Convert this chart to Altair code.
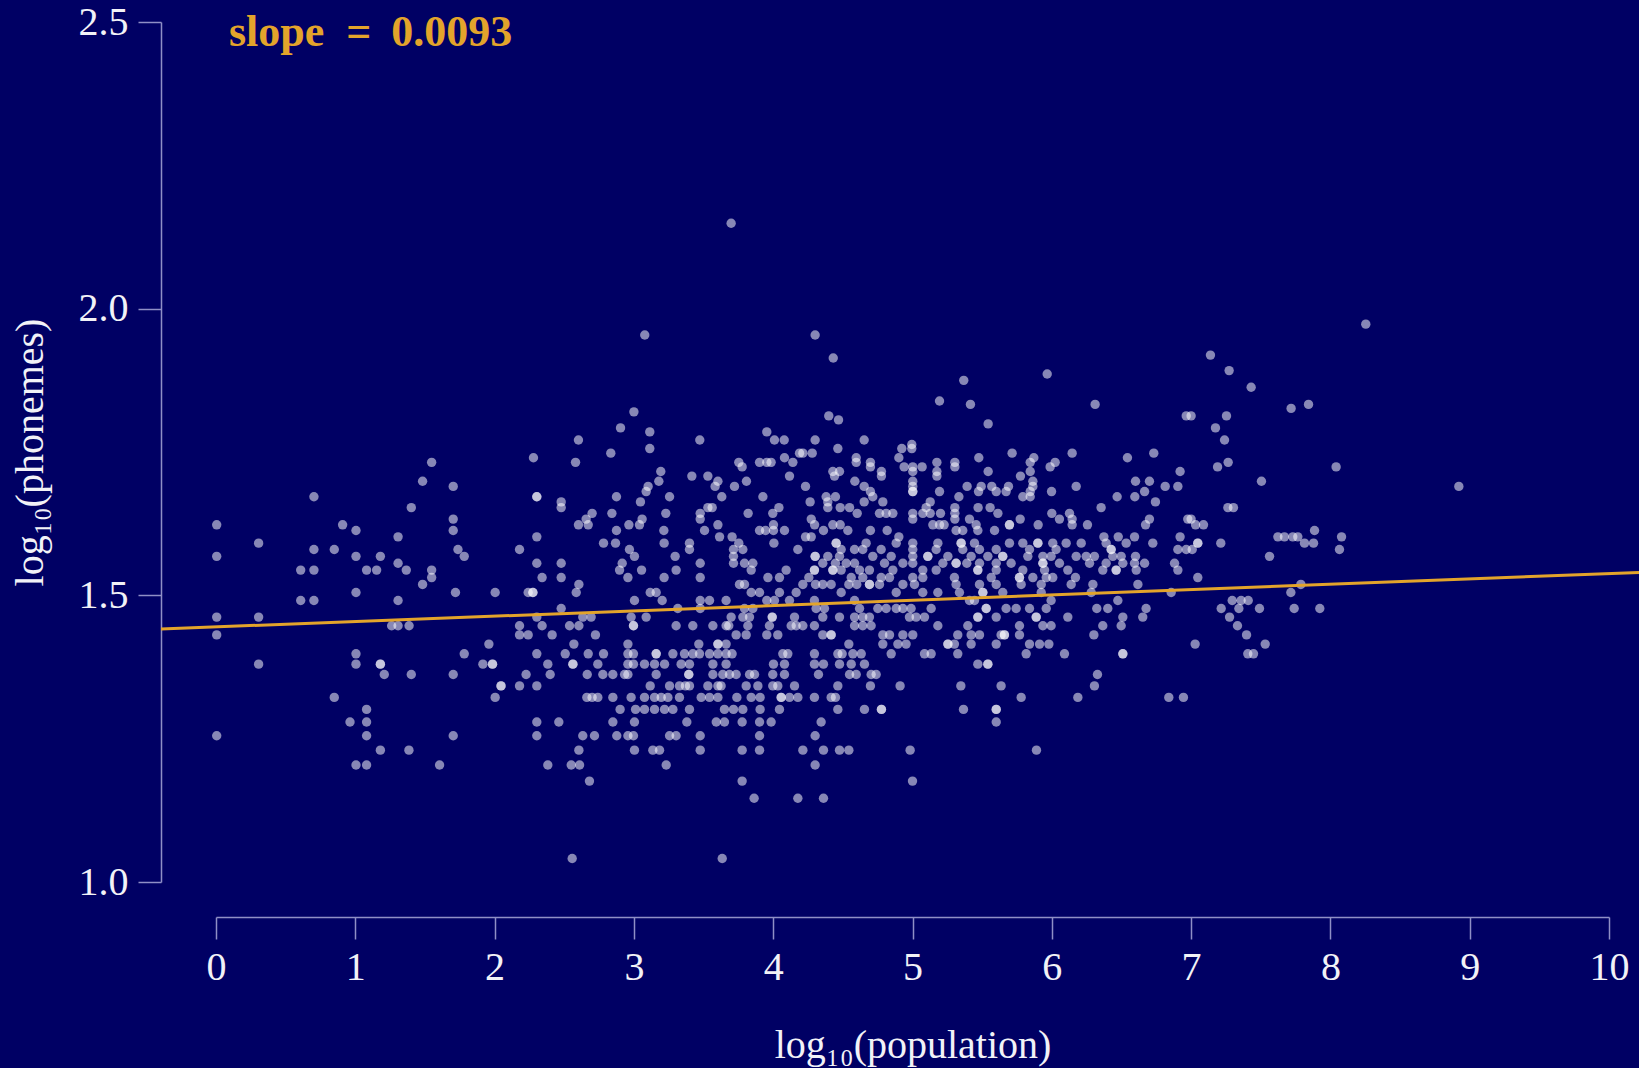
import altair as alt
import pandas as pd

# Languages: log10(speaker population) against log10(phoneme inventory size).
# Each group holds rows of equal inventory size: (log10 phonemes, [log10 population, ...]).

west = [
    (1.732, [1.548]), (1.699, [1.483]), (1.690, [1.703]), (1.672, [0.703]),
    (1.653, [1.402]), (1.633, [1.703]), (1.623, [0.005, 0.909]), (1.613, [1.005, 1.703]),
    (1.602, [1.307]), (1.591, [0.306]),
    (1.580, [0.703, 0.849, 1.737, 2.179]), (1.568, [0.005, 1.005, 1.180, 1.782]),
    (1.556, [1.307]), (1.544, [0.608, 0.703, 1.081, 1.153, 1.366, 1.548]),
    (1.531, [1.548]), (1.519, [1.483]), (1.505, [1.005, 1.719, 2.004, 2.241]),
    (1.491, [0.608, 0.703, 1.307]), (1.462, [0.005, 0.306]),
    (1.447, [1.261, 1.307, 1.386, 2.179]), (1.431, [0.005, 2.179, 2.241]),
    (1.415, [1.959]), (1.398, [1.005, 1.782]),
    (1.380, [0.306, 1.005, 1.180, 1.180, 1.916, 1.985, 1.985]),
    (1.362, [1.208, 1.402, 1.703, 2.226]), (1.342, [2.046, 2.046, 2.179]),
    (1.322, [0.849, 2.004]), (1.301, [1.081]), (1.279, [0.962, 1.081]),
    (1.255, [0.005, 1.081, 1.703]), (1.230, [1.180, 1.385]), (1.204, [1.005, 1.081, 1.605]),
]

centre_upper = [
    (2.149, [3.698]), (1.954, [3.078, 4.301]), (1.914, [4.431]), (1.820, [3.000]),
    (1.813, [4.399]), (1.806, [4.469]), (1.792, [2.904]), (1.785, [3.114, 3.954]),
    (1.771, [2.602, 3.473, 4.009, 4.079, 4.301]), (1.756, [3.114, 4.464]),
    (1.748, [2.834, 4.189, 4.213, 4.280]), (1.740, [2.279, 4.081, 4.596]),
    (1.732, [2.581, 3.753, 3.902, 3.954, 3.985, 4.141, 4.596]), (1.724, [3.777]),
    (1.716, [3.193, 4.428, 4.476]), (1.708, [3.416, 3.531, 4.117, 4.440]),
    (1.699, [3.179, 3.603, 3.808, 4.586]), (1.690, [3.102, 3.583, 3.722, 4.232]),
    (1.681, [3.088]),
    (1.672, [2.303, 2.303, 2.875, 3.256, 3.631, 3.926, 4.380, 4.447]),
    (1.663, [2.478, 3.047, 4.265, 4.392]),
    (1.653, [2.478, 3.531, 3.562, 4.041, 4.392, 4.481, 4.548]),
    (1.643, [2.700, 2.842, 3.229, 3.476, 3.820, 3.997, 4.603]),
    (1.633, [2.657, 3.059, 3.476, 4.273]),
    (1.623, [2.602, 2.672, 2.964, 3.040, 3.603, 4.002, 4.297, 4.428, 4.481]),
    (1.613, [2.875, 3.215, 3.507, 3.902, 3.945, 4.002, 4.081, 4.361, 4.536]),
    (1.602, [2.303, 3.615, 3.705, 4.232, 4.273]),
]

east_upper = [
    (1.886, [5.967]), (1.875, [5.368]), (1.839, [5.194]), (1.833, [5.416, 6.311]),
    (1.813, [6.965]), (1.799, [5.543]), (1.771, [4.653]), (1.763, [4.995]),
    (1.756, [4.923, 4.995]), (1.748, [5.715, 6.146, 6.732]),
    (1.740, [4.902, 5.476, 5.871, 6.543]),
    (1.732, [4.698, 5.175, 5.304, 5.845, 6.024]),
    (1.724, [4.698, 4.940, 5.002, 5.069, 5.304, 5.988]),
    (1.716, [5.002, 5.175, 5.845, 6.921, 4.777, 5.543]),
    (1.708, [5.175, 5.775, 4.777]),
    (1.699, [5.864, 5.002, 6.601, 6.701]),
    (1.690, [5.864, 5.002, 4.653, 5.392, 5.493, 5.569, 5.689, 6.175, 6.814, 6.905]),
    (1.681, [5.845, 5.002, 5.002, 4.698, 5.194, 5.474, 5.601, 5.672, 5.998, 6.666]),
    (1.672, [4.715, 5.333, 5.792, 5.845, 6.469, 6.596]),
    (1.663, [6.744, 4.653, 4.787, 5.127]),
    (1.653, [5.098, 5.304, 5.471, 5.557, 6.354]),
    (1.643, [4.811, 4.763, 4.859, 5.074, 5.127, 5.201, 5.304, 5.613, 5.002, 6.000, 6.127]),
    (1.633, [5.304, 5.002, 6.055, 6.146, 6.701, 6.976, 5.409, 5.773]),
    (1.623, [6.146, 6.673, 5.146, 5.194, 5.227, 5.457, 5.696, 5.696, 5.902, 6.256]),
    (1.613, [5.469, 4.698, 4.818, 5.313, 5.361, 5.589]),
    (1.602, [4.902, 6.374, 6.477, 6.594, 6.921]),
]

far_east = [
    (1.973, [8.254]), (1.919, [7.139]), (1.892, [7.273]), (1.863, [7.431]),
    (1.833, [7.843]), (1.826, [7.718]), (1.813, [7.000, 7.254]), (1.792, [7.175]),
    (1.771, [7.240]), (1.732, [7.266]), (1.724, [7.190, 8.041]), (1.699, [7.505]),
    (1.690, [8.922]), (1.653, [7.264, 7.304]), (1.633, [7.000]), (1.623, [7.032, 7.089]),
    (1.613, [7.886]), (1.602, [7.623, 7.670, 7.730, 7.766, 8.080]),
    (1.591, [7.048, 7.048, 7.213, 7.814, 7.879]), (1.580, [7.008, 8.065]),
    (1.568, [7.563]), (1.531, [7.048]), (1.519, [7.788]), (1.505, [7.716]),
    (1.491, [7.295, 7.359, 7.410]), (1.477, [7.216, 7.343, 7.491, 7.740, 7.924]),
    (1.462, [7.276]), (1.447, [7.333]), (1.431, [7.398]), (1.415, [7.029, 7.532]),
    (1.398, [7.407, 7.448]),
]

centre_lower = [
    (1.591, [2.782, 2.868, 3.217, 3.399, 3.753, 4.005, 4.452, 4.452]),
    (1.580, [2.968, 3.399, 3.715, 3.782, 4.177, 4.488, 4.584]),
    (1.568, [3.004, 3.296, 3.715, 4.301, 4.301, 4.392, 4.476]),
    (1.556, [2.303, 2.478, 2.916, 3.476, 3.715, 3.794, 3.854, 4.356, 4.447, 4.524, 4.584]),
    (1.544, [2.897, 3.055, 3.303, 3.842, 4.093, 4.296, 4.296, 4.428, 4.428, 4.488]),
    (1.531, [2.341, 2.478, 2.957, 3.217, 3.476, 3.962, 4.045, 4.256, 4.560]),
    (1.519, [2.605, 3.758, 3.794, 4.213, 4.304, 4.356, 4.416, 4.543, 4.600]),
    (1.505, [2.275, 2.275, 2.586, 3.117, 3.160, 3.842, 3.902, 4.045, 4.165, 4.488]),
    (1.491, [3.004, 3.203, 3.476, 3.543, 3.662, 3.954, 4.009, 4.117, 4.296, 4.584]),
    (1.477, [2.478, 3.315, 3.476, 3.794, 3.854, 4.308, 4.368]),
    (1.462, [2.303, 2.633, 2.693, 2.980, 3.088, 3.698, 3.782, 3.830, 3.993, 3.993,
             4.153, 4.356, 4.476, 4.584]),
    (1.447, [2.341, 2.538, 2.605, 2.997, 2.997, 3.303, 3.423, 3.567, 3.662, 3.681,
             3.818, 3.973, 4.129, 4.165, 4.213, 4.296, 4.584]),
    (1.431, [2.413, 2.724, 3.734, 3.806, 3.954, 4.033, 4.356, 4.416, 4.416]),
    (1.415, [2.569, 2.957, 3.466, 3.603, 3.603, 3.662, 4.543]),
    (1.398, [2.303, 2.507, 2.672, 2.782, 2.957, 2.997, 3.160, 3.160, 3.280, 3.363,
             3.423, 3.471, 3.543, 3.603, 3.662, 3.705, 4.069, 4.105, 4.296, 4.464,
             4.495, 4.572]),
    (1.380, [2.382, 2.562, 2.562, 2.741, 2.957, 2.997, 3.076, 3.148, 3.220, 3.339,
             3.399, 3.567, 3.662, 4.002, 4.081, 4.296, 4.361, 4.476, 4.560]),
    (1.362, [2.399, 2.665, 2.777, 2.849, 2.933, 2.957, 3.160, 3.394, 3.394, 3.567,
             3.638, 3.686, 3.734, 3.830, 3.866, 3.997, 4.081, 4.325, 4.548, 4.596]),
    (1.342, [2.303, 3.117, 3.256, 3.327, 3.370, 3.399, 3.531, 3.603, 3.626, 3.806,
             3.890, 3.997, 4.033, 4.153, 4.464]),
    (1.322, [2.662, 2.700, 2.741, 2.849, 2.980, 3.076, 3.148, 3.196, 3.244, 3.327,
             3.483, 3.543, 3.603, 3.739, 3.842, 3.906, 4.057, 4.057, 4.117, 4.177,
             4.296, 4.416, 4.447]),
    (1.301, [2.901, 3.012, 3.076, 3.148, 3.220, 3.280, 3.399, 3.650, 3.715, 3.782,
             3.906, 4.045, 4.464]),
    (1.279, [2.303, 2.461, 2.849, 3.004, 3.380, 3.591, 3.650, 3.777, 3.902, 3.985, 4.344]),
    (1.255, [2.303, 2.633, 2.717, 2.877, 2.957, 2.997, 3.256, 3.303, 3.476, 3.902, 4.301]),
    (1.230, [2.605, 3.004, 3.136, 3.184, 3.476, 3.777, 3.902, 4.213, 4.361, 4.476, 4.543]),
    (1.204, [2.382, 2.550, 2.610, 3.232, 4.301]),
    (1.176, [2.681, 3.777]),
    (1.146, [3.863, 4.177, 4.361]),
    (1.041, [2.557, 3.634]),
]

east_lower = [
    (1.591, [4.667, 4.883, 5.002, 5.182, 5.349, 5.349, 5.445, 5.696, 5.792, 5.900,
             5.900, 6.007, 6.103, 6.211, 6.390, 6.534, 6.725]),
    (1.580, [4.643, 4.775, 5.002, 5.170, 5.361, 5.481, 5.601, 5.840, 6.031, 6.426,
             6.426, 6.905, 6.965]),
    (1.568, [4.715, 4.847, 5.002, 5.110, 5.110, 5.254, 5.421, 5.541, 5.648, 5.648,
             5.828, 5.936, 5.995, 6.175, 6.247, 6.306, 6.438, 6.498, 6.601]),
    (1.556, [4.799, 4.931, 5.002, 5.218, 5.313, 5.313, 5.390, 5.481, 5.601, 5.708,
             5.936, 5.936, 6.055, 6.271, 6.390, 6.510, 6.594, 6.666, 6.881]),
    (1.544, [4.620, 4.691, 4.859, 5.074, 5.170, 5.469, 5.469, 5.601, 5.792, 5.948,
             6.115, 6.366, 6.462, 6.462, 6.606, 6.905]),
    (1.531, [4.643, 4.775, 4.835, 5.002, 5.074, 5.301, 5.565, 5.768, 5.768, 5.864,
             5.960, 6.007, 6.170]),
    (1.519, [4.691, 4.691, 4.763, 4.931, 5.014, 5.313, 5.481, 5.601, 5.780, 5.924,
             6.139, 6.295, 6.618]),
    (1.505, [4.883, 5.074, 5.182, 5.337, 5.505, 5.505, 5.648, 5.924, 6.283, 6.857]),
    (1.491, [5.409, 5.445, 5.995, 6.474]),
    (1.477, [4.620, 4.751, 4.811, 4.883, 4.931, 4.990, 5.134, 5.529, 5.529, 5.672,
             5.744, 5.840, 5.960, 6.323, 6.402, 6.677]),
    (1.462, [4.643, 4.691, 4.978, 5.026, 5.086, 5.469, 5.469, 5.601, 5.888, 5.888,
             6.115, 6.510, 6.653]),
    (1.447, [4.643, 4.703, 5.182, 5.397, 5.768, 5.936, 5.995, 6.366, 6.498]),
    (1.431, [4.787, 4.835, 4.931, 5.002, 5.325, 5.421, 5.481, 5.636, 5.660, 5.660,
             5.768, 6.302]),
    (1.415, [4.787, 4.895, 4.954, 5.254, 5.254, 5.301, 5.421, 5.601, 5.840, 5.912, 5.979]),
    (1.398, [4.632, 4.847, 5.086, 5.134, 5.325, 5.816, 6.091, 6.510, 6.510]),
    (1.380, [4.655, 5.469, 5.541, 5.541]),
    (1.362, [4.703, 4.739, 6.328]),
    (1.342, [4.698, 4.911, 5.347, 5.636, 6.306]),
    (1.322, [5.780, 6.187, 6.840, 6.945]),
    (1.301, [4.655, 4.777, 4.777, 5.366, 5.601, 5.601]),
    (1.279, [5.601]),
    (1.230, [4.983, 5.890]),
    (1.176, [5.000]),
]

# Fitted trend reported on the chart
slope = 0.0093
intercept = 1.445
fit_x = [-0.395, 10.3]

x_ticks = list(range(0, 11))
y_ticks = [1.0, 1.5, 2.0, 2.5]

BG = "#000064"
AXIS = "#8f8fc6"
TEXT = "#f2f2f7"
GOLD = "#E3A42B"
FONT = "Liberation Serif"

records = []
for group in (west, centre_upper, east_upper, far_east, centre_lower, east_lower):
    for phon, pops in group:
        for pop in pops:
            records.append({"population": pop, "phonemes": phon})
points_df = pd.DataFrame(records)
fit_df = pd.DataFrame({"population": fit_x})

x_scale = alt.Scale(domain=[0, 10], nice=False, zero=False)
y_scale = alt.Scale(domain=[1.0, 2.5], nice=False, zero=False)

x_axis = alt.Axis(
    values=x_ticks, format="d", title="log₁₀(population)", offset=35,
    tickSize=22, labelPadding=8, titlePadding=38, labelFlush=False,
)
y_axis = alt.Axis(
    values=y_ticks, format=".1f", title="log₁₀(phonemes)", offset=55,
    tickSize=23, labelPadding=10, titlePadding=28, labelFlush=False,
)

points = alt.Chart(points_df).mark_circle(
    size=88, color="white", opacity=0.53
).encode(
    x=alt.X("population:Q", scale=x_scale, axis=x_axis),
    y=alt.Y("phonemes:Q", scale=y_scale, axis=y_axis),
)

trend = alt.Chart(fit_df).transform_calculate(
    phonemes=f"{intercept} + {slope} * datum.population"
).mark_line(color=GOLD, strokeWidth=3, clip=False).encode(
    x=alt.X("population:Q", scale=x_scale),
    y=alt.Y("phonemes:Q", scale=y_scale),
)

label = alt.Chart(pd.DataFrame({"text": [f"slope\u00a0 =\u2009 {slope}"]})).mark_text(
    align="left", baseline="alphabetic", font=FONT, fontSize=44,
    fontWeight="bold", color=GOLD,
).encode(
    x=alt.value(13),
    y=alt.value(24),
    text="text:N",
)

chart = alt.layer(points, trend, label).properties(
    width=1393,
    height=860,
    padding={"left": 216, "top": 22, "right": 30, "bottom": 186},
    autosize=alt.AutoSizeParams(type="none"),
    background=BG,
).configure_view(
    stroke=None,
).configure_axis(
    grid=False,
    domainColor=AXIS,
    domainWidth=1.5,
    tickColor=AXIS,
    tickWidth=1.5,
    labelFont=FONT,
    labelFontSize=40,
    labelColor=TEXT,
    titleFont=FONT,
    titleFontSize=40,
    titleFontWeight="normal",
    titleColor=TEXT,
)

chart.save("out.html", embed_options={"renderer": "svg", "actions": False})
